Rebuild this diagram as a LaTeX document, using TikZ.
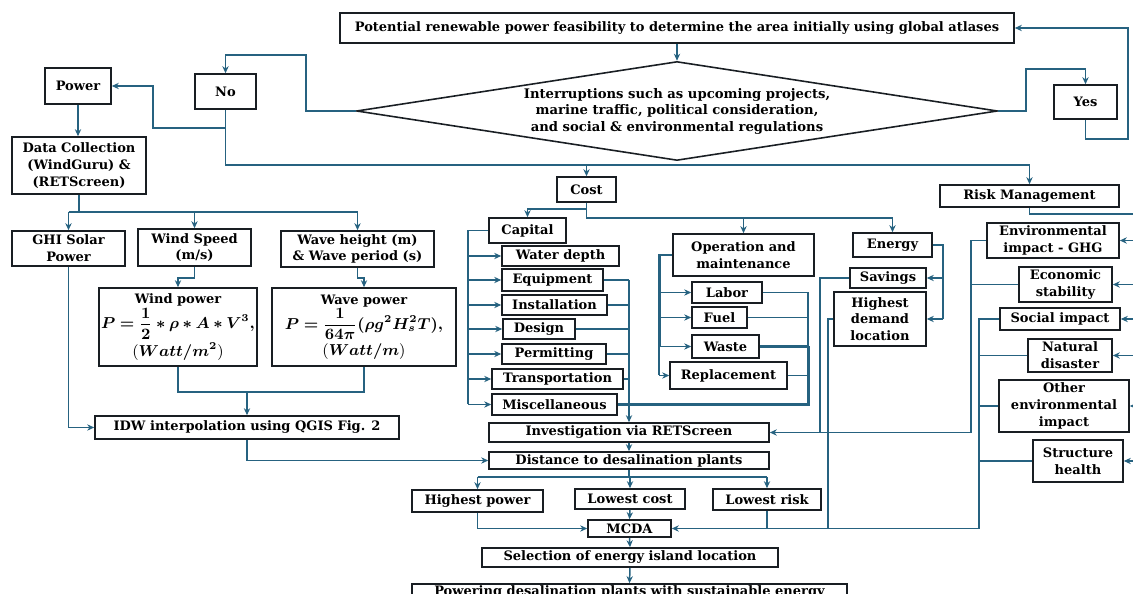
\documentclass[tikz,border=0pt]{standalone}
\usepackage{amsmath,bm}
\usepackage{fontspec}
\setmainfont{DejaVu Serif}
\usetikzlibrary{shapes.geometric,arrows.meta}
\definecolor{lc}{RGB}{38,98,128}
\definecolor{bc}{RGB}{25,30,35}
\newcommand\bx[6]{\node[box,minimum width={(#4-#2)*0.02cm},minimum height={(#5-#3)*0.02cm}] (#1) at ({(#2+#4)/2},{(#3+#5)/2}) {#6};}
\newcommand\mfs{\fontsize{8.8}{10}\selectfont}
\begin{document}
\begin{tikzpicture}[x=0.02cm,y=-0.02cm,
  box/.style={draw=bc,line width=0.9pt,fill=white,align=center,inner sep=0.5pt,font=\bfseries\fontsize{7.4}{9.5}\selectfont},
  conn/.style={draw=lc,line width=0.85pt},
  arr/.style={conn,-{Stealth[length=4pt,width=3.6pt]}},
  thk/.style={draw=lc,line width=1.7pt},
  diam/.style={shape=diamond,draw=bc,line width=0.9pt,fill=white,shape aspect=6.5,inner sep=0pt,align=center,font=\bfseries\fontsize{7.5}{9.4}\selectfont}]
\useasboundingbox (0,0) rectangle (1133,594);
% ---------- nodes ----------
\bx{top}{340}{13}{1014}{43}{Potential renewable power feasibility to determine the area initially using global atlases}
\node[diam,minimum width={641*0.02cm},minimum height={99*0.02cm}] (dia) at (677,111) {Interruptions such as upcoming projects,\\marine traffic, political consideration,\\and social \& environmental regulations};
\bx{No}{195}{74}{256}{109}{No}
\bx{Power}{45}{68}{111}{104}{Power}
\bx{Yes}{1054}{85}{1117}{119}{Yes}
\bx{DC}{12}{137}{146}{194}{Data Collection\\(WindGuru) \&\\(RETScreen)}
\bx{GHI}{12}{231}{125}{266}{GHI Solar\\Power}
\bx{WS}{138}{229}{251}{266}{Wind Speed\\(m/s)}
\bx{WH}{281}{231}{434}{267}{Wave height (m)\\\& Wave period (s)}
\bx{WP}{99}{288}{257}{366}{Wind power\\{\mfs$\bm{P=\dfrac{1}{2}*\rho*A*V^3,}$}\\[1pt]{\mfs$(\bm{Watt/m^2})$}}
\bx{WvP}{272}{288}{456}{366}{Wave power\\{\mfs$\bm{P=\dfrac{1}{64\pi}(\rho g^2H_s^2T),}$}\\[1pt]{\mfs$(\bm{Watt/m})$}}
\bx{IDW}{95}{416}{399}{439}{IDW interpolation using QGIS Fig. 2}
\bx{Cost}{557}{177}{616}{202}{Cost}
\bx{Cap}{489}{218}{566}{243}{Capital}
\bx{WD}{502}{246}{619}{266}{Water depth}
\bx{Eq}{502}{269}{603}{291}{Equipment}
\bx{Inst}{502}{295}{607}{315}{Installation}
\bx{Des}{503}{319}{575}{339}{Design}
\bx{Perm}{502}{344}{606}{364}{Permitting}
\bx{Trans}{492}{369}{623}{389}{Transportation}
\bx{Misc}{492}{394}{617}{415}{Miscellaneous}
\bx{OM}{673}{234}{814}{276}{Operation and\\maintenance}
\bx{Lab}{692}{282}{762}{303}{Labor}
\bx{Fuel}{692}{307}{747}{328}{Fuel}
\bx{Waste}{692}{335}{759}{358}{Waste}
\bx{Rep}{670}{362}{787}{389}{Replacement}
\bx{Energy}{853}{233}{932}{257}{Energy}
\bx{Sav}{850}{268}{926}{288}{Savings}
\bx{HD}{834}{292}{926}{346}{Highest\\demand\\location}
\bx{Risk}{940}{185}{1119}{207}{Risk Management}
\bx{GHG}{987}{223}{1119}{258}{Environmental\\impact - GHG}
\bx{ES}{1019}{267}{1112}{302}{Economic\\stability}
\bx{SI}{1000}{308}{1120}{330}{Social impact}
\bx{ND}{1028}{339}{1112}{372}{Natural\\disaster}
\bx{OE}{999}{380}{1129}{432}{Other\\environmental\\impact}
\bx{SH}{1033}{440}{1123}{482}{Structure\\health}
\bx{Inv}{489}{423}{769}{442}{Investigation via RETScreen}
\bx{Dist}{489}{452}{769}{469}{Distance to desalination plants}
\bx{HP}{412}{490}{543}{512}{Highest power}
\bx{LC}{575}{489}{685}{509}{Lowest cost}
\bx{LR}{713}{489}{821}{510}{Lowest risk}
\bx{MCDA}{588}{520}{671}{537}{MCDA}
\bx{Sel}{482}{548}{778}{567}{Selection of energy island location}
\bx{Pow}{412}{584}{847}{600}{Powering desalination plants with sustainable energy}
% ---------- helper coordinates ----------
\coordinate (nL) at (306,55);
\coordinate (yR) at (1026,69);
\coordinate (yB) at (1128,139);
\coordinate (nP) at (153,128);
\coordinate (hA) at (0,165);
\coordinate (hB) at (0,212);
\coordinate (hC) at (0,392);
\coordinate (hD) at (0,218);
\coordinate (hF) at (0,214);
\coordinate (hG) at (0,477);
\coordinate (vC) at (468,0);
\coordinate (vR) at (629,0);
\coordinate (vO) at (659,0);
\coordinate (vP) at (808,0);
\coordinate (vE) at (943,0);
\coordinate (vS) at (820,0);
\coordinate (vH) at (828,0);
\coordinate (vK) at (1137,0);
\coordinate (vL) at (971,0);
\coordinate (vM) at (979,0);
% ---------- connectors ----------
\draw[arr] (top.south) -- (dia.north);
\draw[arr] (dia.west) -| (nL) -| (No.north);
\draw[arr] (dia.east) -| (yR) -| (Yes.north);
\draw[arr] (Yes.south) |- (yB) |- (top.east);
\draw[arr] (No.south) |- (nP) |- (Power.east);
\draw[conn] (No.south) |- (Risk.north |- hA);
\draw[arr] (Risk.north |- hA) -- (Risk.north);
\draw[arr] (Cost.north |- hA) -- (Cost.north);
\draw[arr] (Power.south) -- (Power.south |- DC.north);
\draw[conn] (DC.south) -- (DC.south |- hB);
\draw[conn] (GHI.north |- hB) -- (WH.north |- hB);
\foreach \n in {GHI,WS,WH} \draw[arr] (\n.north |- hB) -- (\n.north);
\draw[arr] (WS.south) -- ++(0,11) -| (WP.north);
\draw[arr] (WH.south) -- ++(0,10) -| (WvP.north);
\draw[conn] (WP.south) |- (WvP.south |- hC) -- (WvP.south);
\draw[arr] (IDW.north |- hC) -- (IDW.north);
\draw[arr] (GHI.south) |- (IDW.west);
\draw[arr] (IDW.south) |- (Dist.west);
% cost tree
\draw[arr] (Cost.south) -- ++(0,6) -| (Cap.north);
\draw[conn] (Cost.south) |- (Energy.north |- hD);
\draw[arr] (OM.north |- hD) -- (OM.north);
\draw[arr] (Energy.north |- hD) -- (Energy.north);
\draw[conn] (Cap.west) -- (vC |- Cap.west) -- (vC |- Misc.west);
\foreach \n in {WD,Eq,Inst,Des,Perm,Trans,Misc} \draw[arr] (vC |- \n.west) -- (\n.west);
\foreach \n in {Eq,Inst,Des,Perm,Trans} \draw[conn] (\n.east) -- (vR |- \n.east);
\draw[arr] (vR |- Eq.east) -- (Inv.north);
\draw[thk] (OM.west) -- (vO |- OM.west) -- (vO |- Waste.west);
\draw[conn] (vO |- Waste.west) -- (vO |- Rep.west);
\foreach \n in {Lab,Fuel,Waste,Rep} \draw[arr] (vO |- \n.west) -- (\n.west);
\foreach \n in {Lab,Fuel,Rep} \draw[conn] (\n.east) -- (vP |- \n.east);
\draw[thk] (Waste.east) -- (vP |- Waste.east);
\draw[conn] (vP |- Lab.east) -- (vP |- Waste.east);
\draw[thk] (vP |- Waste.east) |- (Misc.east);
\draw[conn] (Energy.east) -- (vE |- Energy.east) -- (vE |- HD.east);
\draw[arr] (vE |- Sav.east) -- (Sav.east);
\draw[arr] (vE |- HD.east) -- (HD.east);
\draw[conn] (Sav.west) -| (vS |- Inv.east);
\draw[conn] (HD.west) -| (vH |- MCDA.east);
% risk tree
\draw[conn] (Risk.south) |- (vK |- hF) -- (vK |- SH.east);
\foreach \n in {GHG,ES,SI,ND,OE,SH} \draw[arr] (vK |- \n.east) -- (\n.east);
\draw[conn] (ES.west) -- (vL |- ES.west);
\draw[arr] (GHG.west) -- (vL |- GHG.west) -- (vL |- Inv.east) -- (Inv.east);
\foreach \n in {ND,OE,SH} \draw[conn] (\n.west) -- (vM |- \n.west);
\draw[arr] (SI.west) -- (vM |- SI.west) -- (vM |- MCDA.east) -- (MCDA.east);
% bottom chain
\draw[arr] (Inv.south) -- (Dist.north);
\draw[conn] (Dist.south) -- (Dist.south |- hG);
\draw[conn] (HP.north |- hG) -- (LR.north |- hG);
\foreach \n in {HP,LC,LR} \draw[arr] (\n.north |- hG) -- (\n.north);
\draw[arr] (LC.south) -- (MCDA.north);
\draw[arr] (HP.south) |- (MCDA.west);
\draw[conn] (LR.south) -- (LR.south |- MCDA.east);
\draw[arr] (MCDA.south) -- (Sel.north);
\draw[arr] (Sel.south) -- (Pow.north);
\end{tikzpicture}
\end{document}
